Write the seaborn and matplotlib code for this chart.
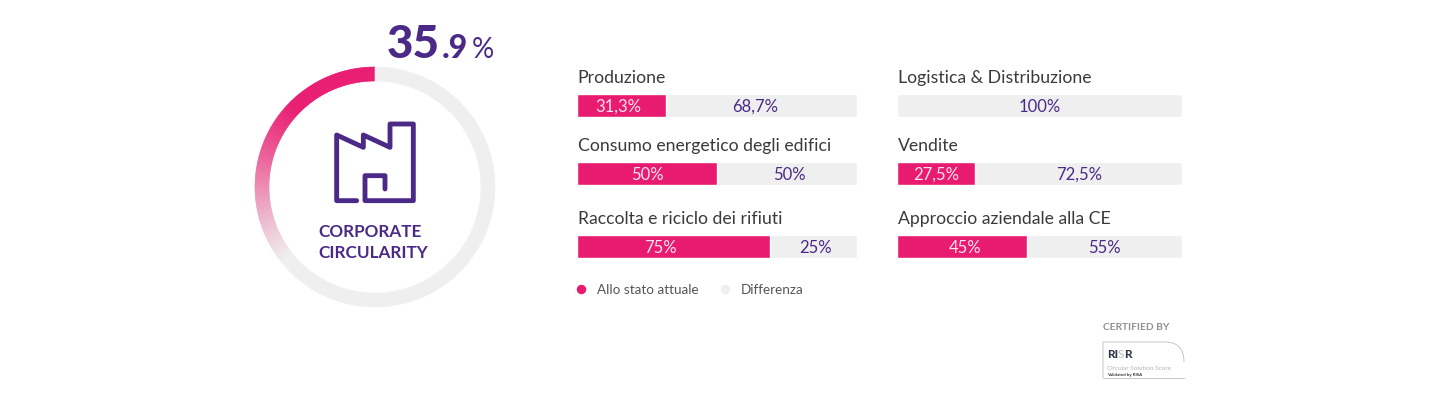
import numpy as np
import pandas as pd
import matplotlib.pyplot as plt
from matplotlib.colors import to_rgb
from matplotlib.lines import Line2D
from matplotlib.patches import PathPatch
from matplotlib.path import Path
import seaborn as sns

sns.set_theme(style="white")
plt.rcParams['font.family'] = ['Lato', 'DejaVu Sans']

PINK = '#e91b70'
GREY = '#efefef'
PURPLE = '#4b2a87'
DARK = '#3a3a3a'

W, H = 1440, 400

# data
categories = ['Produzione', 'Consumo energetico degli edifici', 'Raccolta e riciclo dei rifiuti',
              'Logistica & Distribuzione', 'Vendite', 'Approccio aziendale alla CE']
# drawn lengths: the 75% bar is only drawn to about 69% of the track in the original
attuale = [31.8, 50, 69, 0, 27.2, 45.6]
differenza = [68.2, 50, 31, 100, 72.8, 54.4]
attuale_labels = ['31,3%', '50%', '75%', '', '27,5%', '45%']
differenza_labels = ['68,7%', '50%', '25%', '100%', '72,5%', '55%']
corporate_score = 35.9
legend_labels = ['Allo stato attuale', 'Differenza']

df = pd.DataFrame({'category': categories, 'attuale': attuale, 'differenza': differenza,
                   'label_a': attuale_labels, 'label_d': differenza_labels})
df['totale'] = df['attuale'] + df['differenza']

# left, right, top of the bar and baseline of its title, in pixels
bar_boxes = [(577, 857, 94.2, 83), (577, 857, 162.2, 151), (577, 857, 235.2, 224),
             (897.5, 1182, 94.2, 83), (897.5, 1182, 162.2, 151), (897.5, 1182, 235.2, 224)]
BAR_H = 23
# label shifts in pixels, the original does not centre them exactly
nudge_a = [-3, 0, -13, 0, 0, 3]
nudge_d = [-6, 2, 2, 0, 1, 0]


def add_px_axes(fig, left, right, top, bottom):
    return fig.add_axes([left / W, 1 - bottom / H, (right - left) / W, (bottom - top) / H])


def draw_bar(fig, row, box, shift_a, shift_d):
    left, right, top, _ = box
    ax = add_px_axes(fig, left, right, top, top + BAR_H)
    one = pd.DataFrame([row])
    sns.barplot(data=one, x='totale', y='category', color=GREY, width=1, saturation=1, ax=ax)
    if row['attuale'] > 0:
        sns.barplot(data=one, x='attuale', y='category', color=PINK, width=1, saturation=1, ax=ax)
    ax.set_xlim(0, row['totale'])
    ax.set_ylim(0.5, -0.5)
    ax.axis('off')
    if row['label_a']:
        ax.annotate(row['label_a'], (row['attuale'] / 2, 0), xytext=(shift_a * 0.72, -0.8), textcoords='offset points',
                    ha='center', va='center', color='#fbe3ee', fontsize=12)
    ax.annotate(row['label_d'], (row['attuale'] + row['differenza'] / 2, 0), xytext=(shift_d * 0.72, -0.8),
                textcoords='offset points', ha='center', va='center', color=PURPLE, fontsize=12)


def draw_donut(fig):
    cx, cy, r = 375, 187, 120
    ax = add_px_axes(fig, cx - r, cx + r, cy - r, cy + r)
    n = 150
    sizes = [corporate_score / n] * n + [100 - corporate_score]
    # the pink arc fades downwards into the grey ring
    mids = (np.arange(n) + 0.5) / n * corporate_score / 100 * 2 * np.pi
    ys = cy - (r - 7) * np.cos(mids)
    t = np.clip((ys - 108) / (258 - 108), 0, 1)[:, None]
    colors = (1 - t) * np.array(to_rgb(PINK)) + t * np.array(to_rgb(GREY))
    colors = [tuple(c) for c in colors] + [GREY]
    wedges, _ = ax.pie(sizes, colors=colors, startangle=90, counterclock=True, radius=1,
                       wedgeprops={'width': 14 / r, 'linewidth': 0.4})
    for w, c in zip(wedges, colors):
        w.set_edgecolor(c)
    ax.set_xlim(-1, 1)
    ax.set_ylim(-1, 1)
    ax.axis('off')


def draw_factory(ov):
    pts = [(350, 572), (290, 572), (290, 375), (370, 412), (370, 375), (450, 412), (450, 342),
           (520, 342), (520, 572), (375, 572), (375, 497), (435, 497), (435, 537)]
    xs = [p[0] / 3 + 240 for p in pts]
    ys = [p[1] / 3 + 10 for p in pts]
    ov.plot(xs, ys, color=PURPLE, lw=3.5, solid_joinstyle='round', solid_capstyle='round')


def draw_badge(ov):
    ov.text(1103, 328, 'CERTIFIED BY', fontsize=7.3, fontweight='bold', color='#8f8f8f', va='center', ha='left')
    verts = [(1103, 378), (1103, 342), (1165, 342), (1184, 342), (1184, 362)]
    codes = [Path.MOVETO, Path.LINETO, Path.LINETO, Path.CURVE3, Path.CURVE3]
    ov.add_patch(PathPatch(Path(verts, codes), fc='none', ec='#c4c4c4', lw=0.7))
    ov.plot([1103, 1184], [378, 378], color='#c4c4c4', lw=0.7)
    ov.text(1107, 355, 'RI', fontsize=8.5, fontweight='black', color='#2f3a4a', va='center')
    ov.text(1117.5, 355, 'S', fontsize=8.5, color='#b9b9b9', va='center')
    ov.text(1124, 355, 'R', fontsize=8.5, fontweight='black', color='#2f3a4a', va='center')
    ov.text(1107, 368, 'Circular Solution Score', fontsize=4.6, color='#aeb4bb', va='center')
    ov.text(1107, 375, 'Validated by RISA', fontsize=3.2, fontweight='bold', color='#333333', va='center')


fig = plt.figure(figsize=(W / 100, H / 100), dpi=100, facecolor='white')
draw_donut(fig)
for (_, row), box, sa, sd in zip(df.iterrows(), bar_boxes, nudge_a, nudge_d):
    draw_bar(fig, row, box, sa, sd)

# overlay in pixel coordinates for the text and the icon
ov = fig.add_axes([0, 0, 1, 1], facecolor='none')
ov.set_xlim(0, W)
ov.set_ylim(H, 0)
ov.axis('off')

int_part, dec_part = f'{corporate_score:.1f}'.split('.')
ov.text(387, 58, int_part, fontsize=33, fontweight='black', color=PURPLE, va='baseline')
ov.text(442, 58, '.' + dec_part, fontsize=23, fontweight='black', color=PURPLE, va='baseline')
ov.text(472, 58, '%', fontsize=20, fontweight='normal', color=PURPLE, va='baseline')

draw_factory(ov)
ov.text(318, 237, 'CORPORATE', fontsize=12.3, fontweight='bold', color=PURPLE, ha='left', va='baseline')
ov.text(318, 258, 'CIRCULARITY', fontsize=12.3, fontweight='bold', color=PURPLE, ha='left', va='baseline')

for cat, box in zip(categories, bar_boxes):
    ov.text(box[0] + 0.5, box[3], cat, fontsize=12.7, color=DARK, va='baseline', ha='left')

handles = [Line2D([], [], ls='', marker='o', ms=5.8, color=PINK),
           Line2D([], [], ls='', marker='o', ms=5.8, color=GREY)]
ov.legend(handles, legend_labels, ncols=2, frameon=False, fontsize=9.7, labelcolor='#555555',
          loc='center left', bbox_to_anchor=(573 / W, 1 - 290 / H), bbox_transform=fig.transFigure,
          handletextpad=0.55, columnspacing=1.42, handlelength=1.2, borderpad=0, borderaxespad=0)

draw_badge(ov)

fig.savefig('out.png', dpi=100)
